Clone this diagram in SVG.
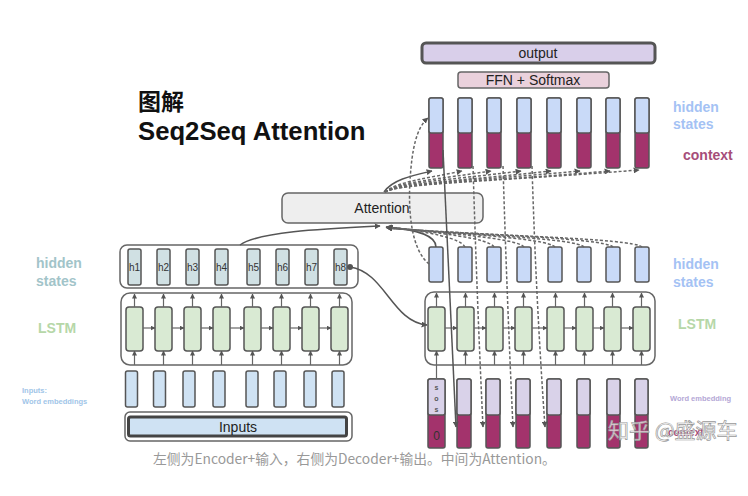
<svg xmlns="http://www.w3.org/2000/svg" width="748" height="496" viewBox="0 0 748 496">
<defs>
<marker id="ah" viewBox="0 0 10 10" refX="9" refY="5" markerWidth="6" markerHeight="6" markerUnits="userSpaceOnUse" orient="auto"><path d="M0,0 L10,5 L0,10 z" fill="#555"/></marker>
<marker id="ahs" viewBox="0 0 10 10" refX="9" refY="5" markerWidth="5" markerHeight="5" markerUnits="userSpaceOnUse" orient="auto"><path d="M0,0 L10,5 L0,10 z" fill="#555"/></marker>
</defs>
<style>
text{font-family:"Liberation Sans",Arial,sans-serif}
.box{fill:#fff;stroke:#666;stroke-width:1.5}
.ench{fill:#d0e0e3;stroke:#555;stroke-width:1.5}
.lstm{fill:#d9ead3;stroke:#555;stroke-width:1.5}
.emb{fill:#cfe2f3;stroke:#555;stroke-width:1.5}
.hid{fill:#c9daf8;stroke:#555;stroke-width:1.5}
.ctx{fill:#a3336c;stroke:#555;stroke-width:1.5}
.lav{fill:#d9d2e9;stroke:#555;stroke-width:1.5}
.dash{fill:none;stroke:#666;stroke-width:1.5;stroke-dasharray:3 2}
.sol{fill:none;stroke:#555;stroke-width:1.5}
.up{fill:none;stroke:#666;stroke-width:1.2}
.lbl{font-weight:bold;font-size:14px}
.hl{font-size:10px;fill:#333}
</style>

<!-- title -->
<g id="title">
<text x="138" y="110" font-size="23" font-weight="bold" fill="#111" style="font-family:'Noto Sans CJK SC',sans-serif">图解</text>
<text x="138" y="140" font-size="25.7" font-weight="bold" fill="#111">Seq2Seq Attention</text>
</g>

<!-- output & FFN -->
<g id="output">
<rect x="422" y="43" width="233" height="20" rx="4" fill="#d9cfea" stroke="#555" stroke-width="3"/>
<text x="538" y="58" font-size="14" text-anchor="middle" fill="#222">output</text>
</g>
<g id="ffn">
<rect x="458" y="72" width="151" height="16" rx="3" fill="#ead1dc" stroke="#666" stroke-width="1.5"/>
<text x="533" y="85" font-size="14" text-anchor="middle" fill="#222">FFN + Softmax</text>
</g>

<!-- decoder top: hidden + context -->
<g id="dec-top">
<rect class="ctx" x="429" y="98" width="14" height="70" rx="2"/><rect class="hid" x="429" y="98" width="14" height="35" rx="2"/>
<rect class="ctx" x="458" y="98" width="14" height="70" rx="2"/><rect class="hid" x="458" y="98" width="14" height="35" rx="2"/>
<rect class="ctx" x="487" y="98" width="14" height="70" rx="2"/><rect class="hid" x="487" y="98" width="14" height="35" rx="2"/>
<rect class="ctx" x="517" y="98" width="14" height="70" rx="2"/><rect class="hid" x="517" y="98" width="14" height="35" rx="2"/>
<rect class="ctx" x="547" y="98" width="14" height="70" rx="2"/><rect class="hid" x="547" y="98" width="14" height="35" rx="2"/>
<rect class="ctx" x="577" y="98" width="14" height="70" rx="2"/><rect class="hid" x="577" y="98" width="14" height="35" rx="2"/>
<rect class="ctx" x="606" y="98" width="14" height="70" rx="2"/><rect class="hid" x="606" y="98" width="14" height="35" rx="2"/>
<rect class="ctx" x="635" y="98" width="14" height="70" rx="2"/><rect class="hid" x="635" y="98" width="14" height="35" rx="2"/>
</g>

<!-- attention -->
<g id="attention">
<rect x="282" y="193" width="201" height="30" rx="6" fill="#eeeeee" stroke="#666" stroke-width="1.5"/>
<text x="382" y="213" font-size="14" text-anchor="middle" fill="#222">Attention</text>
</g>

<!-- encoder hidden states -->
<g id="enc-hidden">
<rect class="box" x="120" y="245" width="238" height="43" rx="7"/>
<rect class="ench" x="128" y="249" width="13" height="36" rx="2"/><text class="hl" x="134.5" y="271" text-anchor="middle">h1</text>
<rect class="ench" x="157" y="249" width="13" height="36" rx="2"/><text class="hl" x="163.5" y="271" text-anchor="middle">h2</text>
<rect class="ench" x="186" y="249" width="13" height="36" rx="2"/><text class="hl" x="192.5" y="271" text-anchor="middle">h3</text>
<rect class="ench" x="215" y="249" width="13" height="36" rx="2"/><text class="hl" x="221.5" y="271" text-anchor="middle">h4</text>
<rect class="ench" x="247" y="249" width="13" height="36" rx="2"/><text class="hl" x="253.5" y="271" text-anchor="middle">h5</text>
<rect class="ench" x="276" y="249" width="13" height="36" rx="2"/><text class="hl" x="282.5" y="271" text-anchor="middle">h6</text>
<rect class="ench" x="305" y="249" width="13" height="36" rx="2"/><text class="hl" x="311.5" y="271" text-anchor="middle">h7</text>
<rect class="ench" x="334" y="249" width="13" height="36" rx="2"/><text class="hl" x="340.5" y="271" text-anchor="middle">h8</text>
<circle cx="350" cy="267" r="3" fill="#555"/>
</g>

<!-- encoder LSTM -->
<g id="enc-lstm">
<rect class="box" x="121" y="293" width="231" height="72" rx="9"/>
<rect class="lstm" x="126" y="307" width="17" height="44" rx="3"/>
<rect class="lstm" x="155" y="307" width="17" height="44" rx="3"/>
<rect class="lstm" x="184" y="307" width="17" height="44" rx="3"/>
<rect class="lstm" x="213" y="307" width="17" height="44" rx="3"/>
<rect class="lstm" x="244" y="307" width="17" height="44" rx="3"/>
<rect class="lstm" x="273" y="307" width="17" height="44" rx="3"/>
<rect class="lstm" x="302" y="307" width="17" height="44" rx="3"/>
<rect class="lstm" x="331" y="307" width="17" height="44" rx="3"/>
</g>

<!-- encoder embeddings -->
<g id="enc-emb">
<rect class="emb" x="125.5" y="371" width="12" height="36" rx="2"/>
<rect class="emb" x="153.5" y="371" width="12" height="36" rx="2"/>
<rect class="emb" x="183" y="371" width="12" height="36" rx="2"/>
<rect class="emb" x="213" y="371" width="12" height="36" rx="2"/>
<rect class="emb" x="246" y="371" width="12" height="36" rx="2"/>
<rect class="emb" x="274" y="371" width="12" height="36" rx="2"/>
<rect class="emb" x="304" y="371" width="12" height="36" rx="2"/>
<rect class="emb" x="332" y="371" width="12" height="36" rx="2"/>
</g>

<g id="inputs">
<rect class="box" x="125" y="412" width="227" height="29" rx="5"/>
<rect x="128.5" y="417" width="218" height="19" rx="2" fill="#cfe2f3" stroke="#444" stroke-width="3"/>
<text x="238" y="432" font-size="14" text-anchor="middle" fill="#222">Inputs</text>
</g>

<!-- decoder hidden states -->
<g id="dec-hidden">
<rect class="hid" x="429" y="247" width="14" height="35" rx="2"/>
<rect class="hid" x="458" y="247" width="14" height="35" rx="2"/>
<rect class="hid" x="487" y="247" width="14" height="35" rx="2"/>
<rect class="hid" x="517" y="247" width="14" height="35" rx="2"/>
<rect class="hid" x="548" y="247" width="14" height="35" rx="2"/>
<rect class="hid" x="577" y="247" width="14" height="35" rx="2"/>
<rect class="hid" x="606" y="247" width="14" height="35" rx="2"/>
<rect class="hid" x="635" y="247" width="14" height="35" rx="2"/>
</g>

<!-- decoder LSTM -->
<g id="dec-lstm">
<rect class="box" x="425" y="292" width="230" height="73" rx="9"/>
<rect class="lstm" x="428" y="307" width="17" height="44" rx="3"/>
<rect class="lstm" x="457" y="307" width="17" height="44" rx="3"/>
<rect class="lstm" x="486" y="307" width="17" height="44" rx="3"/>
<rect class="lstm" x="515" y="307" width="17" height="44" rx="3"/>
<rect class="lstm" x="547" y="307" width="17" height="44" rx="3"/>
<rect class="lstm" x="576" y="307" width="17" height="44" rx="3"/>
<rect class="lstm" x="604" y="307" width="17" height="44" rx="3"/>
<rect class="lstm" x="633" y="307" width="17" height="44" rx="3"/>
</g>

<!-- decoder inputs -->
<g id="dec-inputs">
<rect class="ctx" x="428" y="379" width="17" height="69" rx="2"/><rect class="lav" x="428" y="379" width="17" height="36" rx="2"/>
<rect class="ctx" x="457" y="379" width="14" height="69" rx="2"/><rect class="lav" x="457" y="379" width="14" height="36" rx="2"/>
<rect class="ctx" x="486" y="379" width="14" height="69" rx="2"/><rect class="lav" x="486" y="379" width="14" height="36" rx="2"/>
<rect class="ctx" x="516" y="379" width="14" height="69" rx="2"/><rect class="lav" x="516" y="379" width="14" height="36" rx="2"/>
<rect class="ctx" x="547" y="379" width="14" height="69" rx="2"/><rect class="lav" x="547" y="379" width="14" height="36" rx="2"/>
<rect class="ctx" x="577" y="379" width="13" height="69" rx="2"/><rect class="lav" x="577" y="379" width="13" height="36" rx="2"/>
<rect class="ctx" x="607" y="379" width="13" height="69" rx="2"/><rect class="lav" x="607" y="379" width="13" height="36" rx="2"/>
<rect class="ctx" x="635" y="379" width="13" height="69" rx="2"/><rect class="lav" x="635" y="379" width="13" height="36" rx="2"/>
<text x="436.5" y="390" font-size="7" font-weight="bold" text-anchor="middle" fill="#555">s</text>
<text x="436.5" y="401" font-size="7" font-weight="bold" text-anchor="middle" fill="#555">o</text>
<text x="436.5" y="412" font-size="7" font-weight="bold" text-anchor="middle" fill="#555">s</text>
<text x="436.5" y="440" font-size="12" text-anchor="middle" fill="#333">0</text>
</g>

<!-- side labels -->
<g id="labels">
<text class="lbl" x="36" y="268" fill="#a2c4c9">hidden</text>
<text class="lbl" x="36" y="286" fill="#a2c4c9">states</text>
<text class="lbl" x="38" y="333" fill="#b6d7a8">LSTM</text>
<text x="22" y="393" font-size="7.5" font-weight="bold" fill="#9fc5e8">Inputs:</text>
<text x="22" y="404" font-size="7.5" font-weight="bold" fill="#9fc5e8">Word embeddings</text>
<text class="lbl" x="673" y="112" fill="#a4c2f4">hidden</text>
<text class="lbl" x="673" y="129" fill="#a4c2f4">states</text>
<text class="lbl" x="683" y="160" fill="#a64d79">context</text>
<text class="lbl" x="673" y="269" fill="#a4c2f4">hidden</text>
<text class="lbl" x="673" y="287" fill="#a4c2f4">states</text>
<text class="lbl" x="678" y="329" fill="#b6d7a8">LSTM</text>
<text x="670" y="401" font-size="7.5" font-weight="bold" fill="#b4a7d6">Word embedding</text>
<text x="668" y="436" font-size="10" font-weight="bold" fill="#a64d79">context</text>
</g>

<!-- connectors -->
<g id="connectors">
<g class="up" marker-end="url(#ahs)">
<path d="M134.5,307 V294"/><path d="M163.5,307 V294"/><path d="M192.5,307 V294"/><path d="M221.5,307 V294"/>
<path d="M252.5,307 V294"/><path d="M281.5,307 V294"/><path d="M310.5,307 V294"/><path d="M339.5,307 V294"/>
<path d="M134.5,365 V351"/><path d="M163.5,365 V351"/><path d="M192.5,365 V351"/><path d="M221.5,365 V351"/>
<path d="M252.5,365 V351"/><path d="M281.5,365 V351"/><path d="M310.5,365 V351"/><path d="M339.5,365 V351"/>
<path d="M143,328 H155"/><path d="M172,328 H184"/><path d="M201,328 H213"/><path d="M230,328 H244"/>
<path d="M261,328 H273"/><path d="M290,328 H302"/><path d="M319,328 H331"/>
<path d="M436.5,307 V293"/><path d="M465.5,307 V293"/><path d="M494.5,307 V293"/><path d="M523.5,307 V293"/>
<path d="M555.5,307 V293"/><path d="M584.5,307 V293"/><path d="M612.5,307 V293"/><path d="M641.5,307 V293"/>
<path d="M436.5,379 V351"/><path d="M465.5,365 V351"/><path d="M494.5,365 V351"/><path d="M523.5,365 V351"/>
<path d="M555.5,365 V351"/><path d="M584.5,365 V351"/><path d="M612.5,365 V351"/><path d="M641.5,365 V351"/>
<path d="M445,328 H457"/><path d="M474,328 H486"/><path d="M503,328 H515"/><path d="M532,328 H547"/>
<path d="M564,328 H576"/><path d="M593,328 H604"/><path d="M621,328 H633"/>
</g>
<path class="sol" d="M350,267 C385,272 392,322 427,325" marker-end="url(#ah)"/>
<path class="sol" d="M240,245 C258,232 320,229 380,226" marker-end="url(#ah)"/>
<path class="sol" d="M436,247 C436,236 420,230 386,227" marker-end="url(#ah)"/>
<g class="dash" marker-end="url(#ah)">
<path d="M465,247 C460,238 430,232 387,227"/>
<path d="M494,247 C488,238 440,233 387,227"/>
<path d="M524,247 C516,238 450,234 387,227"/>
<path d="M555,247 C546,238 460,234 387,228"/>
<path d="M584,247 C575,238 470,235 387,228"/>
<path d="M613,247 C604,238 480,235 387,228"/>
<path d="M642,247 C632,238 490,236 387,228"/>
</g>
<path class="sol" d="M384,192 C392,180 410,176 432,171" marker-end="url(#ah)"/>
<g class="dash" marker-end="url(#ah)">
<path d="M385,192 C398,181 430,178 462,171"/>
<path d="M385,192 C398,182 440,179 491,171"/>
<path d="M385,192 C400,182 450,180 521,171"/>
<path d="M385,192 C400,183 460,181 551,171"/>
<path d="M385,192 C400,183 470,181 580,171"/>
<path d="M385,192 C400,183 480,182 610,171"/>
<path d="M385,192 C400,183 490,182 639,170"/>
</g>
<path class="dash" d="M429,264 C412,250 408,215 410,180 C412,150 416,128 428,118" marker-end="url(#ah)"/>
<path class="sol" d="M443,150 L456,427" marker-end="url(#ah)"/>
<g class="dash" marker-end="url(#ah)">
<path d="M473,166 Q477,300 483,427"/>
<path d="M503,166 Q507,300 513,427"/>
<path d="M532,166 Q536,300 545,427"/>
</g>
</g>

<!-- watermark -->
<text x="608" y="438" font-size="21" fill="#fff" fill-opacity="0.75" stroke="#999" stroke-width="0.7" style="font-family:'Noto Sans CJK SC',sans-serif">知乎 @盛源车</text>

<!-- caption -->
<text x="153" y="464" font-size="13.8" fill="#999" style="font-family:'Noto Sans CJK SC','Noto Sans',sans-serif">左侧为Encoder+输入，右侧为Decoder+输出。中间为Attention。</text>
</svg>
